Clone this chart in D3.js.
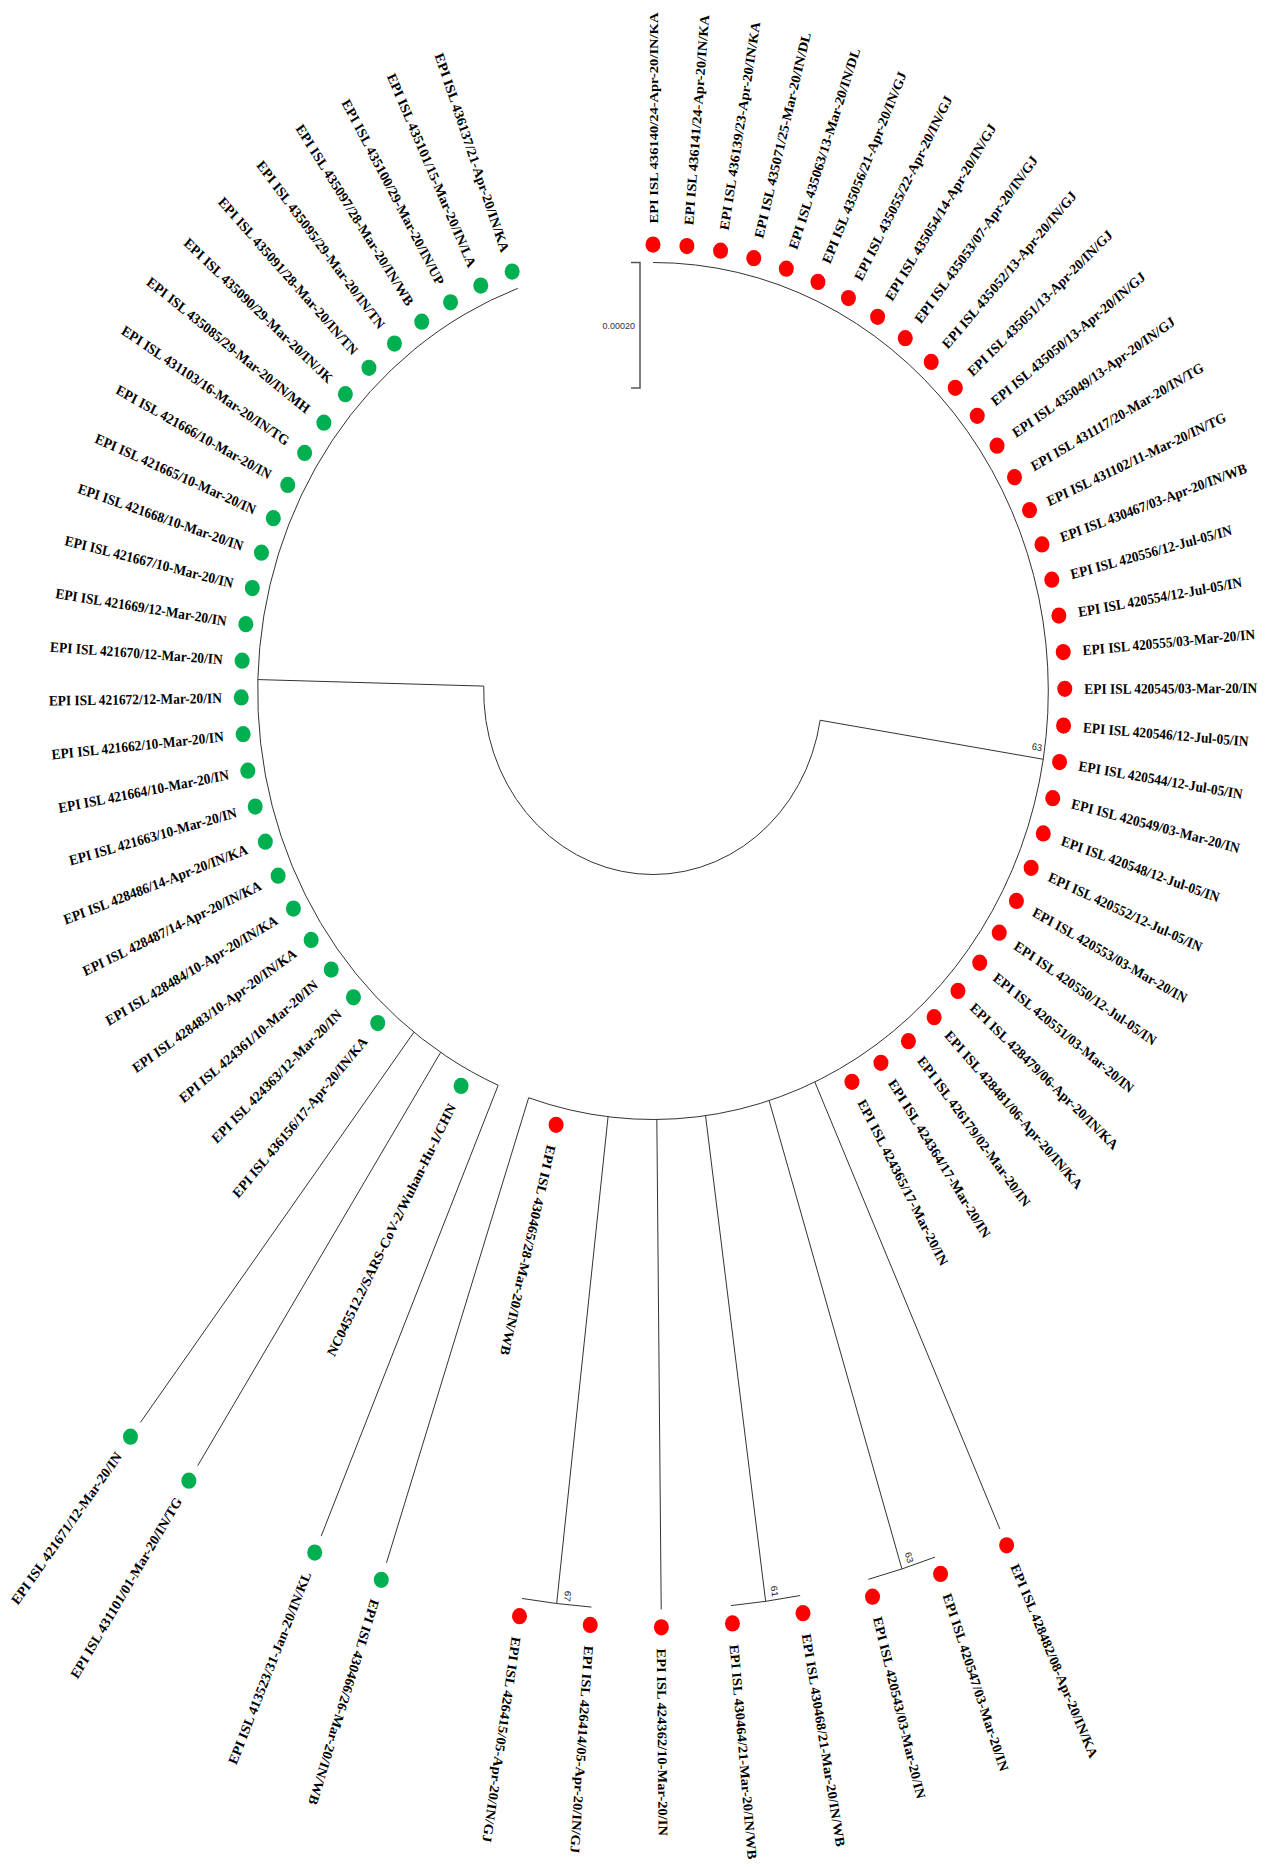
<!DOCTYPE html>
<html>
<head>
<meta charset="utf-8">
<script src="https://cdn.jsdelivr.net/npm/d3@7"></script>
<style>
  body { margin: 0; background: #fff; }
  svg { display: block; }
</style>
</head>
<body>
<div id="tree"></div>
<script>
// tips in circular order, clockwise from the top of the circle
const tipNames = [
  "EPI ISL 436140/24-Apr-20/IN/KA", "EPI ISL 436141/24-Apr-20/IN/KA", "EPI ISL 436139/23-Apr-20/IN/KA",
  "EPI ISL 435071/25-Mar-20/IN/DL", "EPI ISL 435063/13-Mar-20/IN/DL", "EPI ISL 435056/21-Apr-20/IN/GJ",
  "EPI ISL 435055/22-Apr-20/IN/GJ", "EPI ISL 435054/14-Apr-20/IN/GJ", "EPI ISL 435053/07-Apr-20/IN/GJ",
  "EPI ISL 435052/13-Apr-20/IN/GJ", "EPI ISL 435051/13-Apr-20/IN/GJ", "EPI ISL 435050/13-Apr-20/IN/GJ",
  "EPI ISL 435049/13-Apr-20/IN/GJ", "EPI ISL 431117/20-Mar-20/IN/TG", "EPI ISL 431102/11-Mar-20/IN/TG",
  "EPI ISL 430467/03-Apr-20/IN/WB", "EPI ISL 420556/12-Jul-05/IN", "EPI ISL 420554/12-Jul-05/IN",
  "EPI ISL 420555/03-Mar-20/IN", "EPI ISL 420545/03-Mar-20/IN", "EPI ISL 420546/12-Jul-05/IN",
  "EPI ISL 420544/12-Jul-05/IN", "EPI ISL 420549/03-Mar-20/IN", "EPI ISL 420548/12-Jul-05/IN",
  "EPI ISL 420552/12-Jul-05/IN", "EPI ISL 420553/03-Mar-20/IN", "EPI ISL 420550/12-Jul-05/IN",
  "EPI ISL 420551/03-Mar-20/IN", "EPI ISL 428479/06-Apr-20/IN/KA", "EPI ISL 428481/06-Apr-20/IN/KA",
  "EPI ISL 426179/02-Mar-20/IN", "EPI ISL 424364/17-Mar-20/IN", "EPI ISL 424365/17-Mar-20/IN",
  "EPI ISL 428482/08-Apr-20/IN/KA", "EPI ISL 420547/03-Mar-20/IN", "EPI ISL 420543/03-Mar-20/IN",
  "EPI ISL 430468/21-Mar-20/IN/WB", "EPI ISL 430464/21-Mar-20/IN/WB", "EPI ISL 424362/10-Mar-20/IN",
  "EPI ISL 426414/05-Apr-20/IN/GJ", "EPI ISL 426415/05-Apr-20/IN/GJ", "EPI ISL 430465/28-Mar-20/IN/WB",
  "EPI ISL 430466/26-Mar-20/IN/WB", "EPI ISL 413523/31-Jan-20/IN/KL", "NC045512.2/SARS-CoV-2/Wuhan-Hu-1/CHN",
  "EPI ISL 431101/01-Mar-20/IN/TG", "EPI ISL 421671/12-Mar-20/IN",
  "EPI ISL 436156/17-Apr-20/IN/KA", "EPI ISL 424363/12-Mar-20/IN", "EPI ISL 424361/10-Mar-20/IN",
  "EPI ISL 428483/10-Apr-20/IN/KA", "EPI ISL 428484/10-Apr-20/IN/KA", "EPI ISL 428487/14-Apr-20/IN/KA",
  "EPI ISL 428486/14-Apr-20/IN/KA", "EPI ISL 421663/10-Mar-20/IN", "EPI ISL 421664/10-Mar-20/IN",
  "EPI ISL 421662/10-Mar-20/IN", "EPI ISL 421672/12-Mar-20/IN", "EPI ISL 421670/12-Mar-20/IN",
  "EPI ISL 421669/12-Mar-20/IN", "EPI ISL 421667/10-Mar-20/IN", "EPI ISL 421668/10-Mar-20/IN",
  "EPI ISL 421665/10-Mar-20/IN", "EPI ISL 421666/10-Mar-20/IN", "EPI ISL 431103/16-Mar-20/IN/TG",
  "EPI ISL 435085/29-Mar-20/IN/MH", "EPI ISL 435090/29-Mar-20/IN/JK", "EPI ISL 435091/28-Mar-20/IN/TN",
  "EPI ISL 435095/29-Mar-20/IN/TN", "EPI ISL 435097/28-Mar-20/IN/WB", "EPI ISL 435100/29-Mar-20/IN/UP",
  "EPI ISL 435101/15-Mar-20/IN/LA", "EPI ISL 436137/21-Apr-20/IN/KA"
];

// the first 42 tips carry a red marker, the rest green
const redCount = 42;

// the two main clades, by number of tips in circular order
const cladeSizes = [43, 30];
const cladeSupport = [63, null];

// branch depths (substitutions/site) from the root arc
const cladeDepth = 0.00039;
const longDepth = 0.00117;

const longTips = [
  "EPI ISL 428482/08-Apr-20/IN/KA", "EPI ISL 424362/10-Mar-20/IN", "EPI ISL 430466/26-Mar-20/IN/WB",
  "EPI ISL 413523/31-Jan-20/IN/KL", "EPI ISL 431101/01-Mar-20/IN/TG", "EPI ISL 421671/12-Mar-20/IN"
];
const cherries = [
  ["EPI ISL 420547/03-Mar-20/IN", "EPI ISL 420543/03-Mar-20/IN"],
  ["EPI ISL 430468/21-Mar-20/IN/WB", "EPI ISL 430464/21-Mar-20/IN/WB"],
  ["EPI ISL 426414/05-Apr-20/IN/GJ", "EPI ISL 426415/05-Apr-20/IN/GJ"]
];
const cherrySupport = [63, 61, 67];

const scaleBarValue = 0.0002;

// ---- build the tree ----
function buildClade(names, support) {
  const children = [];
  for (let i = 0; i < names.length; i++) {
    const c = cherries.findIndex(p => p[0] === names[i]);
    if (c >= 0) {
      children.push({ dist: longDepth, support: cherrySupport[c],
        children: cherries[c].map(n => ({ name: n, dist: longDepth })) });
      i++;
    } else {
      children.push({ name: names[i], dist: longTips.includes(names[i]) ? longDepth : cladeDepth });
    }
  }
  return { dist: cladeDepth, support: support, children: children };
}

let start = 0;
const rootData = { dist: 0, children: cladeSizes.map((n, i) => {
  const c = buildClade(tipNames.slice(start, start + n), cladeSupport[i]);
  start += n;
  return c;
}) };

const width = 1273, height = 1867;
const cx = 653, cy = 691, stretchY = 1.084;

const root = d3.hierarchy(rootData);
const leaves = root.leaves();

const angle = d3.scaleLinear().domain([0, leaves.length - 1]).range([-90, 250]);
const radius = d3.scaleLinear().domain([0, scaleBarValue]).range([169.3, 285.2]);

leaves.forEach((d, i) => { d.a = angle(i); d.idx = tipNames.indexOf(d.data.name); });
root.eachAfter(d => {
  if (d.children) d.a = (d.children[0].a + d.children[d.children.length - 1].a) / 2;
});
root.each(d => { d.r = radius(d.data.dist); });

const rad = a => a * Math.PI / 180;
const pt = (a, r) => [r * Math.cos(rad(a)), r * Math.sin(rad(a))];

const svg = d3.select("#tree").append("svg")
  .attr("width", width)
  .attr("height", height);

const g = svg.append("g")
  .attr("transform", `translate(${cx},${cy}) scale(1,${stretchY})`);

// arcs joining the children of each internal node
g.selectAll("path.arc")
  .data(root.descendants().filter(d => d.children))
  .join("path")
  .attr("class", "arc")
  .attr("fill", "none")
  .attr("stroke", "#333")
  .attr("stroke-width", 1)
  .attr("vector-effect", "non-scaling-stroke")
  .attr("d", d => {
    const p = d3.path();
    p.arc(0, 0, d.r, rad(d.children[0].a), rad(d.children[d.children.length - 1].a));
    return p.toString();
  });

// radial branches
g.selectAll("path.branch")
  .data(root.descendants().filter(d => d.parent && d.r > d.parent.r + 0.5))
  .join("path")
  .attr("class", "branch")
  .attr("fill", "none")
  .attr("stroke", "#333")
  .attr("stroke-width", 1)
  .attr("vector-effect", "non-scaling-stroke")
  .attr("d", d => d3.line()([pt(d.a, d.parent.r), pt(d.a, d.r)]));

// bootstrap values
g.selectAll("text.support")
  .data(root.descendants().filter(d => d.data.support))
  .join("text")
  .attr("class", "support")
  .attr("transform", d => `rotate(${d.a}) translate(${d.r - 3},-7)`)
  .attr("text-anchor", "end")
  .attr("font-family", "'Liberation Sans', Arial, sans-serif")
  .attr("font-size", 9)
  .attr("fill", "#222")
  .text(d => d.data.support);

// tip markers
g.selectAll("circle.tip")
  .data(leaves)
  .join("circle")
  .attr("class", "tip")
  .attr("cx", d => pt(d.a, d.r + 16.5)[0])
  .attr("cy", d => pt(d.a, d.r + 16.5)[1])
  .attr("r", 7.5)
  .attr("fill", d => d.idx < redCount ? "#ff0000" : "#00b050");

// tip labels
g.selectAll("text.label")
  .data(leaves)
  .join("text")
  .attr("class", "label")
  .attr("transform", d => d.a > 110
    ? `rotate(${d.a}) translate(${d.r + 36},0) rotate(180)`
    : `rotate(${d.a}) translate(${d.r + 36},0)`)
  .attr("text-anchor", d => d.a > 110 ? "end" : "start")
  .attr("dy", "0.35em")
  .attr("font-family", "'Liberation Serif', 'Times New Roman', serif")
  .attr("font-weight", "bold")
  .attr("font-size", 13.4)
  .attr("fill", "#000")
  .text(d => d.data.name);

// scale bar
const barTop = -radius(cladeDepth);
const barLen = radius(scaleBarValue) - radius(0);
const barX = -13;
g.append("path")
  .attr("fill", "none")
  .attr("stroke", "#555")
  .attr("stroke-width", 1.5)
  .attr("vector-effect", "non-scaling-stroke")
  .attr("d", `M${barX - 9},${barTop}H${barX}V${barTop + barLen}H${barX - 9}`);
g.append("text")
  .attr("x", barX - 5)
  .attr("y", barTop + barLen / 2)
  .attr("dy", "0.35em")
  .attr("text-anchor", "end")
  .attr("font-family", "'Liberation Sans', Arial, sans-serif")
  .attr("font-size", 9)
  .attr("fill", "#333")
  .text(scaleBarValue.toFixed(5));
</script>
</body>
</html>
